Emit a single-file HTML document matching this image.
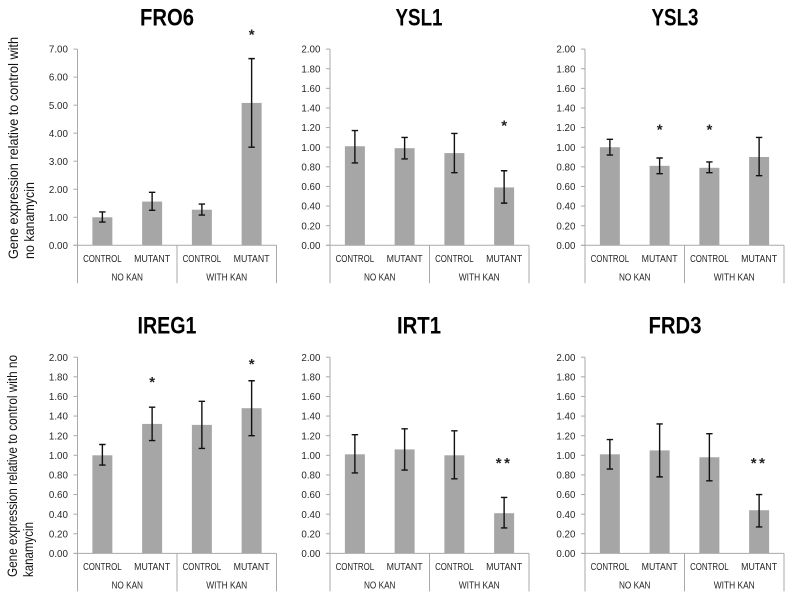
<!DOCTYPE html>
<html lang="en">
<head>
<meta charset="utf-8">
<title>Gene expression relative to control with no kanamycin</title>
<style>
html,body{margin:0;padding:0;background:#fff;width:795px;height:602px;overflow:hidden}
svg{display:block;font-family:"Liberation Sans",sans-serif;filter:blur(0.3px)}
</style>
</head>
<body>
<svg id="chart" width="795" height="602" viewBox="0 0 795 602" xmlns="http://www.w3.org/2000/svg"></svg>
<script>
// ---- data ----
const categories = ['CONTROL', 'MUTANT', 'CONTROL', 'MUTANT'];
const groups = ['NO KAN', 'WITH KAN'];

const ticksFro6 = ['0.00', '1.00', '2.00', '3.00', '4.00', '5.00', '6.00', '7.00'];
const ticksOther = ['0.00', '0.20', '0.40', '0.60', '0.80', '1.00', '1.20', '1.40', '1.60', '1.80', '2.00'];

const fro6Means = [1.00, 1.56, 1.27, 5.08];
const fro6Low = [0.83, 1.25, 1.08, 3.50];
const fro6High = [1.19, 1.89, 1.47, 6.66];
const fro6Marks = ['', '', '', '*'];
const fro6MarkLevels = [0, 0, 0, 7.6];

const ysl1Means = [1.01, 0.99, 0.94, 0.59];
const ysl1Low = [0.84, 0.88, 0.74, 0.43];
const ysl1High = [1.17, 1.10, 1.14, 0.76];
const ysl1Marks = ['', '', '', '*'];
const ysl1MarkLevels = [0, 0, 0, 1.24];

const ysl3Means = [1.00, 0.81, 0.79, 0.90];
const ysl3Low = [0.92, 0.73, 0.74, 0.71];
const ysl3High = [1.08, 0.89, 0.85, 1.10];
const ysl3Marks = ['', '*', '*', ''];
const ysl3MarkLevels = [0, 1.20, 1.20, 0];

const ireg1Means = [1.00, 1.32, 1.31, 1.48];
const ireg1Low = [0.90, 1.15, 1.07, 1.20];
const ireg1High = [1.11, 1.49, 1.55, 1.76];
const ireg1Marks = ['', '*', '', '*'];
const ireg1MarkLevels = [0, 1.77, 0, 1.95];

const irt1Means = [1.01, 1.06, 1.00, 0.41];
const irt1Low = [0.82, 0.85, 0.76, 0.26];
const irt1High = [1.21, 1.27, 1.25, 0.57];
const irt1Marks = ['', '', '', '**'];
const irt1MarkLevels = [0, 0, 0, 0.94];

const frd3Means = [1.01, 1.05, 0.98, 0.44];
const frd3Low = [0.86, 0.78, 0.74, 0.27];
const frd3High = [1.16, 1.32, 1.22, 0.60];
const frd3Marks = ['', '', '', '**'];
const frd3MarkLevels = [0, 0, 0, 0.94];

// ---- drawing ----
const NS = 'http://www.w3.org/2000/svg';
const root = document.getElementById('chart');
const AXIS = '#a9a9a9', INK = '#262626', BAR = '#a6a6a6';
const PLOT_W = 199, PLOT_H = 196.2, CAT_H = 38;
const labelWidths = { 'CONTROL': 38.5, 'MUTANT': 36, 'NO KAN': 31.5, 'WITH KAN': 41 };

function make(parent, tag, attrs, text) {
  const e = document.createElementNS(NS, tag);
  for (const k in attrs) e.setAttribute(k, attrs[k]);
  if (text !== undefined) e.textContent = text;
  parent.appendChild(e);
  return e;
}

function drawPanel(p) {
  const g = make(root, 'g', {});
  
  

  const top = p.y, base = p.y + PLOT_H, left = p.x, right = p.x + PLOT_W;
  const maxVal = parseFloat(p.ticks[p.ticks.length - 1]);
  const yScale = v => base - (v / maxVal) * PLOT_H;
  const band = PLOT_W / categories.length;
  const xScale = i => left + band * (i + 0.5);

  const title = make(g, 'text', {
    x: p.titleX, y: top - 23.6, 'text-anchor': 'middle', 'font-size': 24,
    'font-weight': 'bold', fill: '#000', textLength: p.titleW, lengthAdjust: 'spacingAndGlyphs'
  }, p.title);
  
  

  // bars first so axis sits above them
  categories.forEach((c, i) => {
    const bar = make(g, 'rect', {
      x: xScale(i) - 10, y: yScale(p.means[i]), width: 20,
      height: base - yScale(p.means[i]), fill: BAR
    });
    
    

    const err = make(g, 'path', {
      d: 'M' + (xScale(i) - 3.2) + ' ' + yScale(p.high[i]) + 'h6.4' +
         'M' + xScale(i) + ' ' + yScale(p.high[i]) + 'V' + yScale(p.low[i]) +
         'M' + (xScale(i) - 3.2) + ' ' + yScale(p.low[i]) + 'h6.4',
      fill: 'none', stroke: '#111', 'stroke-width': 1.4
    });
    
    

    if (p.marks[i]) {
      const star = make(g, 'text', {
        x: xScale(i), y: yScale(p.markLevels[i]) + 7, 'text-anchor': 'middle',
        'font-size': 15, 'font-weight': 'bold', fill: '#222', 'letter-spacing': p.marks[i].length > 1 ? 2.5 : 0
      }, p.marks[i]);
      
      
    }

    const cat = make(g, 'text', {
      x: xScale(i), y: base + 16.6, 'text-anchor': 'middle', 'font-size': 10.5, fill: INK,
      textLength: labelWidths[c], lengthAdjust: 'spacingAndGlyphs'
    }, c);
    
    
  });

  groups.forEach((c, i) => {
    const lab = make(g, 'text', {
      x: left + PLOT_W * (i + 0.5) / groups.length, y: base + 35, 'text-anchor': 'middle',
      'font-size': 10.5, fill: INK, textLength: labelWidths[c], lengthAdjust: 'spacingAndGlyphs'
    }, c);
    
    
  });

  const yAxis = make(g, 'line', { x1: left, x2: left, y1: top, y2: base + CAT_H, stroke: AXIS, 'stroke-width': 1 });
  
  

  const xAxis = make(g, 'line', { x1: left - 4, x2: right, y1: base, y2: base, stroke: AXIS, 'stroke-width': 1 });
  
  

  const midDiv = make(g, 'line', { x1: left + PLOT_W / 2, x2: left + PLOT_W / 2, y1: base, y2: base + CAT_H, stroke: AXIS, 'stroke-width': 1 });
  
  

  const endDiv = make(g, 'line', { x1: right, x2: right, y1: base, y2: base + CAT_H, stroke: AXIS, 'stroke-width': 1 });
  
  

  p.ticks.forEach(t => {
    const yy = yScale(parseFloat(t));
    const mark = make(g, 'line', { x1: left - 4, x2: left, y1: yy, y2: yy, stroke: AXIS, 'stroke-width': 1 });
    
    

    const lab = make(g, 'text', {
      x: left - 9.6, y: yy + 3.6, 'text-anchor': 'end', 'font-size': 10.2, fill: INK,
      textLength: 19, lengthAdjust: 'spacingAndGlyphs'
    }, t);
    
    
  });
}

function drawYTitle(name, line, x, yStart, len, size) {
  const t = make(root, 'text', {
    x: 0, y: 0, transform: 'translate(' + x + ' ' + yStart + ') rotate(-90)',
    'font-size': size, fill: '#111', textLength: len, lengthAdjust: 'spacingAndGlyphs'
  }, line);
  
  
}

drawPanel({ name: 'fro6', title: 'FRO6', x: 77.5, y: 49.1, titleX: 167, titleW: 54, ticks: ticksFro6, means: fro6Means, low: fro6Low, high: fro6High, marks: fro6Marks, markLevels: fro6MarkLevels });
drawPanel({ name: 'ysl1', title: 'YSL1', x: 330, y: 49.1, titleX: 419, titleW: 47, ticks: ticksOther, means: ysl1Means, low: ysl1Low, high: ysl1High, marks: ysl1Marks, markLevels: ysl1MarkLevels });
drawPanel({ name: 'ysl3', title: 'YSL3', x: 585, y: 49.1, titleX: 675, titleW: 47, ticks: ticksOther, means: ysl3Means, low: ysl3Low, high: ysl3High, marks: ysl3Marks, markLevels: ysl3MarkLevels });
drawPanel({ name: 'ireg1', title: 'IREG1', x: 77.5, y: 357.2, titleX: 167, titleW: 59, ticks: ticksOther, means: ireg1Means, low: ireg1Low, high: ireg1High, marks: ireg1Marks, markLevels: ireg1MarkLevels });
drawPanel({ name: 'irt1', title: 'IRT1', x: 330, y: 357.2, titleX: 419, titleW: 44, ticks: ticksOther, means: irt1Means, low: irt1Low, high: irt1High, marks: irt1Marks, markLevels: irt1MarkLevels });
drawPanel({ name: 'frd3', title: 'FRD3', x: 585, y: 357.2, titleX: 675, titleW: 53, ticks: ticksOther, means: frd3Means, low: frd3Low, high: frd3High, marks: frd3Marks, markLevels: frd3MarkLevels });

drawYTitle('top-y-axis-title-line-1', 'Gene expression relative to control with', 18, 259, 222, 13.6);
drawYTitle('top-y-axis-title-line-2', 'no kanamycin', 34, 259, 77, 13.6);
drawYTitle('bottom-y-axis-title-line-1', 'Gene expression relative to control with no', 17, 577, 222, 13.4);
drawYTitle('bottom-y-axis-title-line-2', 'kanamycin', 33, 577, 55, 13.4);
</script>
</body>
</html>
